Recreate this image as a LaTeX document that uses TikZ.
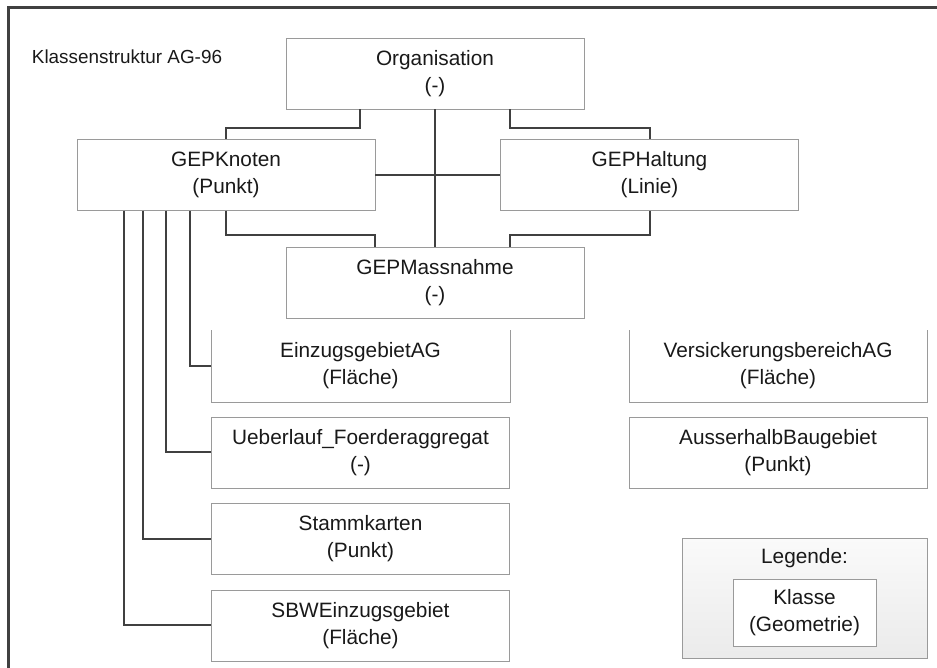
\documentclass[tikz,border=0pt]{standalone}
\usepackage{fontspec}
\setmainfont{Liberation Sans}
\usepackage{xcolor}
\usetikzlibrary{positioning,calc}
\definecolor{linie}{HTML}{404040}
\definecolor{rand}{HTML}{9A9A9A}
\tikzset{
klasse/.style={
draw=rand,
minimum width=298pt,
minimum height=71pt,
align=center,
inner sep=0pt,
text=black!90,
font=\fontsize{20.8}{27}\selectfont
},
offen/.style={
klasse,
draw=none
},
verbinder/.style={
draw=linie,
line width=2pt
}
}

\begin{document}
\begin{tikzpicture}[x=1pt,y=-1pt]
\useasboundingbox (0,0) rectangle (937,668);
\draw[linie,line width=3pt](937,7.5)--(8,7.5)--(8,668);
\node[font=\fontsize{18.9}{23}\selectfont,text=black!90](titel) at (127,57){Klassenstruktur AG-96};

\node[klasse](org) at (435,73.5){Organisation\\(-)};
\node[klasse](kn) at (226,175){GEPKnoten\\(Punkt)};
\node[klasse](hal) at (649.5,175){GEPHaltung\\(Linie)};
\node[klasse](mas) at (435,282.5){GEPMassnahme\\(-)};

\node[offen](ezg) at (360.5,366){EinzugsgebietAG\\(Fl\"ache)};
\node[klasse,below=15pt of ezg](ueb){Ueberlauf\_Foerderaggregat\\(-)};
\node[klasse,below=15pt of ueb](stk){Stammkarten\\(Punkt)};
\node[klasse,below=15pt of stk](sbw){SBWEinzugsgebiet\\(Fl\"ache)};

\node[offen](vsb) at (778,366){VersickerungsbereichAG\\(Fl\"ache)};
\node[klasse,below=15pt of vsb](abg){AusserhalbBaugebiet\\(Punkt)};

% Legende
\node[klasse,minimum width=245pt,minimum height=120pt,top color=gray!4,bottom color=gray!16](leg) at (804.5,598){};
\node[font=\fontsize{20.8}{27}\selectfont,text=black!90](legt) at (804.5,558){Legende:};
\node[klasse,fill=white,minimum width=143pt,minimum height=67pt](kla) at (804.5,612.5){Klasse\\(Geometrie)};

% oben offene Kaesten
\foreach \k in {ezg,vsb}
\draw[rand](\k.north west)--(\k.south west)--(\k.south east)--(\k.north east);

% Verbindungen
\draw[verbinder]($(org.south west)!.25!(org.south east)$)--++(0,19)-|(kn.north);
\draw[verbinder]($(org.south west)!.75!(org.south east)$)--++(0,19)-|(hal.north);
\draw[verbinder](org.south)--(mas.north);
\draw[verbinder](kn.east)--(hal.west);
\draw[verbinder](kn.south)--++(0,24)-|($(mas.north west)!.3!(mas.north east)$);
\draw[verbinder](hal.south)--++(0,24)-|($(mas.north west)!.75!(mas.north east)$);
\foreach \dx/\z in {47/sbw,66/stk,89/ueb,113/ezg}
\draw[verbinder]($(kn.south west)+(\dx,0)$)|-(\z.west);
\end{tikzpicture}
\end{document}
